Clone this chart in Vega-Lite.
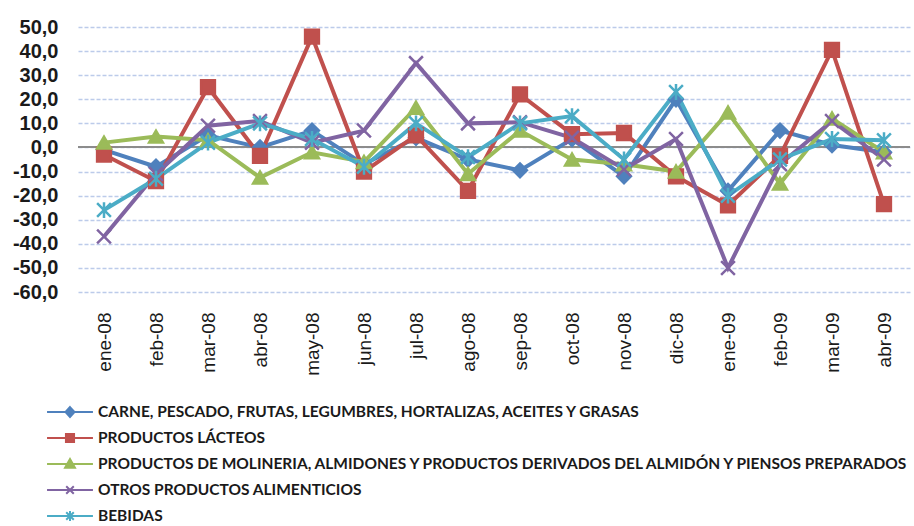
{
  "$schema": "https://vega.github.io/schema/vega-lite/v6.json",
  "autosize": {"type": "none"},
  "width": 832,
  "height": 265,
  "padding": {"left": 78, "top": 27, "right": 4, "bottom": 234},
  "background": "white",
  "config": {
    "view": {"stroke": null},
    "locale": {"number": {"decimal": ",", "thousands": ".", "grouping": [3], "currency": ["", " €"], "minus": "-"}}
  },
  "data": {"values": [
    {"mes": "ene-08", "serie": "CARNE, PESCADO, FRUTAS, LEGUMBRES, HORTALIZAS, ACEITES Y GRASAS", "valor": -1},
    {"mes": "feb-08", "serie": "CARNE, PESCADO, FRUTAS, LEGUMBRES, HORTALIZAS, ACEITES Y GRASAS", "valor": -8},
    {"mes": "mar-08", "serie": "CARNE, PESCADO, FRUTAS, LEGUMBRES, HORTALIZAS, ACEITES Y GRASAS", "valor": 5},
    {"mes": "abr-08", "serie": "CARNE, PESCADO, FRUTAS, LEGUMBRES, HORTALIZAS, ACEITES Y GRASAS", "valor": 0},
    {"mes": "may-08", "serie": "CARNE, PESCADO, FRUTAS, LEGUMBRES, HORTALIZAS, ACEITES Y GRASAS", "valor": 7},
    {"mes": "jun-08", "serie": "CARNE, PESCADO, FRUTAS, LEGUMBRES, HORTALIZAS, ACEITES Y GRASAS", "valor": -7},
    {"mes": "jul-08", "serie": "CARNE, PESCADO, FRUTAS, LEGUMBRES, HORTALIZAS, ACEITES Y GRASAS", "valor": 4},
    {"mes": "ago-08", "serie": "CARNE, PESCADO, FRUTAS, LEGUMBRES, HORTALIZAS, ACEITES Y GRASAS", "valor": -5},
    {"mes": "sep-08", "serie": "CARNE, PESCADO, FRUTAS, LEGUMBRES, HORTALIZAS, ACEITES Y GRASAS", "valor": -9.5},
    {"mes": "oct-08", "serie": "CARNE, PESCADO, FRUTAS, LEGUMBRES, HORTALIZAS, ACEITES Y GRASAS", "valor": 3.5},
    {"mes": "nov-08", "serie": "CARNE, PESCADO, FRUTAS, LEGUMBRES, HORTALIZAS, ACEITES Y GRASAS", "valor": -12},
    {"mes": "dic-08", "serie": "CARNE, PESCADO, FRUTAS, LEGUMBRES, HORTALIZAS, ACEITES Y GRASAS", "valor": 20},
    {"mes": "ene-09", "serie": "CARNE, PESCADO, FRUTAS, LEGUMBRES, HORTALIZAS, ACEITES Y GRASAS", "valor": -18},
    {"mes": "feb-09", "serie": "CARNE, PESCADO, FRUTAS, LEGUMBRES, HORTALIZAS, ACEITES Y GRASAS", "valor": 7},
    {"mes": "mar-09", "serie": "CARNE, PESCADO, FRUTAS, LEGUMBRES, HORTALIZAS, ACEITES Y GRASAS", "valor": 1},
    {"mes": "abr-09", "serie": "CARNE, PESCADO, FRUTAS, LEGUMBRES, HORTALIZAS, ACEITES Y GRASAS", "valor": -2},
    {"mes": "ene-08", "serie": "PRODUCTOS LÁCTEOS", "valor": -3},
    {"mes": "feb-08", "serie": "PRODUCTOS LÁCTEOS", "valor": -14},
    {"mes": "mar-08", "serie": "PRODUCTOS LÁCTEOS", "valor": 25},
    {"mes": "abr-08", "serie": "PRODUCTOS LÁCTEOS", "valor": -3.5},
    {"mes": "may-08", "serie": "PRODUCTOS LÁCTEOS", "valor": 46},
    {"mes": "jun-08", "serie": "PRODUCTOS LÁCTEOS", "valor": -10},
    {"mes": "jul-08", "serie": "PRODUCTOS LÁCTEOS", "valor": 5},
    {"mes": "ago-08", "serie": "PRODUCTOS LÁCTEOS", "valor": -18},
    {"mes": "sep-08", "serie": "PRODUCTOS LÁCTEOS", "valor": 22},
    {"mes": "oct-08", "serie": "PRODUCTOS LÁCTEOS", "valor": 5.5},
    {"mes": "nov-08", "serie": "PRODUCTOS LÁCTEOS", "valor": 6},
    {"mes": "dic-08", "serie": "PRODUCTOS LÁCTEOS", "valor": -12},
    {"mes": "ene-09", "serie": "PRODUCTOS LÁCTEOS", "valor": -24},
    {"mes": "feb-09", "serie": "PRODUCTOS LÁCTEOS", "valor": -3.5},
    {"mes": "mar-09", "serie": "PRODUCTOS LÁCTEOS", "valor": 40.5},
    {"mes": "abr-09", "serie": "PRODUCTOS LÁCTEOS", "valor": -23.5},
    {"mes": "ene-08", "serie": "PRODUCTOS DE MOLINERIA, ALMIDONES Y PRODUCTOS DERIVADOS DEL ALMIDÓN Y PIENSOS PREPARADOS", "valor": 2},
    {"mes": "feb-08", "serie": "PRODUCTOS DE MOLINERIA, ALMIDONES Y PRODUCTOS DERIVADOS DEL ALMIDÓN Y PIENSOS PREPARADOS", "valor": 4.5},
    {"mes": "mar-08", "serie": "PRODUCTOS DE MOLINERIA, ALMIDONES Y PRODUCTOS DERIVADOS DEL ALMIDÓN Y PIENSOS PREPARADOS", "valor": 3},
    {"mes": "abr-08", "serie": "PRODUCTOS DE MOLINERIA, ALMIDONES Y PRODUCTOS DERIVADOS DEL ALMIDÓN Y PIENSOS PREPARADOS", "valor": -12.5},
    {"mes": "may-08", "serie": "PRODUCTOS DE MOLINERIA, ALMIDONES Y PRODUCTOS DERIVADOS DEL ALMIDÓN Y PIENSOS PREPARADOS", "valor": -2},
    {"mes": "jun-08", "serie": "PRODUCTOS DE MOLINERIA, ALMIDONES Y PRODUCTOS DERIVADOS DEL ALMIDÓN Y PIENSOS PREPARADOS", "valor": -6},
    {"mes": "jul-08", "serie": "PRODUCTOS DE MOLINERIA, ALMIDONES Y PRODUCTOS DERIVADOS DEL ALMIDÓN Y PIENSOS PREPARADOS", "valor": 16.5},
    {"mes": "ago-08", "serie": "PRODUCTOS DE MOLINERIA, ALMIDONES Y PRODUCTOS DERIVADOS DEL ALMIDÓN Y PIENSOS PREPARADOS", "valor": -11},
    {"mes": "sep-08", "serie": "PRODUCTOS DE MOLINERIA, ALMIDONES Y PRODUCTOS DERIVADOS DEL ALMIDÓN Y PIENSOS PREPARADOS", "valor": 7},
    {"mes": "oct-08", "serie": "PRODUCTOS DE MOLINERIA, ALMIDONES Y PRODUCTOS DERIVADOS DEL ALMIDÓN Y PIENSOS PREPARADOS", "valor": -5},
    {"mes": "nov-08", "serie": "PRODUCTOS DE MOLINERIA, ALMIDONES Y PRODUCTOS DERIVADOS DEL ALMIDÓN Y PIENSOS PREPARADOS", "valor": -7},
    {"mes": "dic-08", "serie": "PRODUCTOS DE MOLINERIA, ALMIDONES Y PRODUCTOS DERIVADOS DEL ALMIDÓN Y PIENSOS PREPARADOS", "valor": -10},
    {"mes": "ene-09", "serie": "PRODUCTOS DE MOLINERIA, ALMIDONES Y PRODUCTOS DERIVADOS DEL ALMIDÓN Y PIENSOS PREPARADOS", "valor": 14.5},
    {"mes": "feb-09", "serie": "PRODUCTOS DE MOLINERIA, ALMIDONES Y PRODUCTOS DERIVADOS DEL ALMIDÓN Y PIENSOS PREPARADOS", "valor": -15},
    {"mes": "mar-09", "serie": "PRODUCTOS DE MOLINERIA, ALMIDONES Y PRODUCTOS DERIVADOS DEL ALMIDÓN Y PIENSOS PREPARADOS", "valor": 12},
    {"mes": "abr-09", "serie": "PRODUCTOS DE MOLINERIA, ALMIDONES Y PRODUCTOS DERIVADOS DEL ALMIDÓN Y PIENSOS PREPARADOS", "valor": -2},
    {"mes": "ene-08", "serie": "OTROS PRODUCTOS ALIMENTICIOS", "valor": -37},
    {"mes": "feb-08", "serie": "OTROS PRODUCTOS ALIMENTICIOS", "valor": -11},
    {"mes": "mar-08", "serie": "OTROS PRODUCTOS ALIMENTICIOS", "valor": 9},
    {"mes": "abr-08", "serie": "OTROS PRODUCTOS ALIMENTICIOS", "valor": 11},
    {"mes": "may-08", "serie": "OTROS PRODUCTOS ALIMENTICIOS", "valor": 2},
    {"mes": "jun-08", "serie": "OTROS PRODUCTOS ALIMENTICIOS", "valor": 7},
    {"mes": "jul-08", "serie": "OTROS PRODUCTOS ALIMENTICIOS", "valor": 35},
    {"mes": "ago-08", "serie": "OTROS PRODUCTOS ALIMENTICIOS", "valor": 10},
    {"mes": "sep-08", "serie": "OTROS PRODUCTOS ALIMENTICIOS", "valor": 10.5},
    {"mes": "oct-08", "serie": "OTROS PRODUCTOS ALIMENTICIOS", "valor": 4},
    {"mes": "nov-08", "serie": "OTROS PRODUCTOS ALIMENTICIOS", "valor": -9},
    {"mes": "dic-08", "serie": "OTROS PRODUCTOS ALIMENTICIOS", "valor": 3.5},
    {"mes": "ene-09", "serie": "OTROS PRODUCTOS ALIMENTICIOS", "valor": -50},
    {"mes": "feb-09", "serie": "OTROS PRODUCTOS ALIMENTICIOS", "valor": -7},
    {"mes": "mar-09", "serie": "OTROS PRODUCTOS ALIMENTICIOS", "valor": 11},
    {"mes": "abr-09", "serie": "OTROS PRODUCTOS ALIMENTICIOS", "valor": -5},
    {"mes": "ene-08", "serie": "BEBIDAS", "valor": -26},
    {"mes": "feb-08", "serie": "BEBIDAS", "valor": -13},
    {"mes": "mar-08", "serie": "BEBIDAS", "valor": 2},
    {"mes": "abr-08", "serie": "BEBIDAS", "valor": 10},
    {"mes": "may-08", "serie": "BEBIDAS", "valor": 3.5},
    {"mes": "jun-08", "serie": "BEBIDAS", "valor": -8},
    {"mes": "jul-08", "serie": "BEBIDAS", "valor": 10},
    {"mes": "ago-08", "serie": "BEBIDAS", "valor": -4},
    {"mes": "sep-08", "serie": "BEBIDAS", "valor": 10},
    {"mes": "oct-08", "serie": "BEBIDAS", "valor": 13},
    {"mes": "nov-08", "serie": "BEBIDAS", "valor": -5},
    {"mes": "dic-08", "serie": "BEBIDAS", "valor": 23},
    {"mes": "ene-09", "serie": "BEBIDAS", "valor": -20},
    {"mes": "feb-09", "serie": "BEBIDAS", "valor": -5},
    {"mes": "mar-09", "serie": "BEBIDAS", "valor": 3.5},
    {"mes": "abr-09", "serie": "BEBIDAS", "valor": 3}
  ]},
  "encoding": {
    "x": {
      "field": "mes", "type": "nominal", "sort": null,
      "scale": {"type": "point", "padding": 0.5},
      "axis": {"title": null, "labelAngle": -90, "labelFont": "Liberation Sans", "labelFontSize": 19, "labelColor": "#1a1a1a", "labelPadding": 20, "ticks": false, "domain": false, "grid": false}
    },
    "y": {
      "field": "valor", "type": "quantitative",
      "scale": {"domain": [-60, 50], "nice": false, "zero": false},
      "axis": {"title": null, "values": [-60, -50, -40, -30, -20, -10, 0, 10, 20, 30, 40, 50], "format": ".1f", "labelFont": "Liberation Sans", "labelFontSize": 20, "labelFontWeight": "bold", "labelColor": "#1a1a1a", "labelPadding": 20, "ticks": false, "domain": false, "grid": true, "gridColor": "#BCCBEA", "gridDash": [4, 2], "gridWidth": 1.5}
    }
  },
  "layer": [
    {
      "mark": {"type": "rule", "color": "#8c8c8c", "strokeWidth": 1.3},
      "encoding": {"y": {"datum": 0}, "x": null}
    },
    {
      "mark": {"type": "line", "strokeWidth": 4},
      "encoding": {
        "color": {"field": "serie", "type": "nominal", "sort": null,
          "scale": {"domain": ["CARNE, PESCADO, FRUTAS, LEGUMBRES, HORTALIZAS, ACEITES Y GRASAS", "PRODUCTOS LÁCTEOS", "PRODUCTOS DE MOLINERIA, ALMIDONES Y PRODUCTOS DERIVADOS DEL ALMIDÓN Y PIENSOS PREPARADOS", "OTROS PRODUCTOS ALIMENTICIOS", "BEBIDAS"], "range": ["#4F81BD", "#C0504D", "#9BBB59", "#8064A2", "#4BACC6"]},
          "legend": null}
      }
    },
    {
      "mark": {"type": "point", "filled": true, "opacity": 1, "size": 190, "strokeWidth": 2.5},
      "encoding": {
        "color": {"field": "serie", "type": "nominal",
          "scale": {"domain": ["CARNE, PESCADO, FRUTAS, LEGUMBRES, HORTALIZAS, ACEITES Y GRASAS", "PRODUCTOS LÁCTEOS", "PRODUCTOS DE MOLINERIA, ALMIDONES Y PRODUCTOS DERIVADOS DEL ALMIDÓN Y PIENSOS PREPARADOS", "OTROS PRODUCTOS ALIMENTICIOS", "BEBIDAS"], "range": ["#4F81BD", "#C0504D", "#9BBB59", "#8064A2", "#4BACC6"]},
          "legend": null},
        "stroke": {"field": "serie", "type": "nominal",
          "scale": {"domain": ["CARNE, PESCADO, FRUTAS, LEGUMBRES, HORTALIZAS, ACEITES Y GRASAS", "PRODUCTOS LÁCTEOS", "PRODUCTOS DE MOLINERIA, ALMIDONES Y PRODUCTOS DERIVADOS DEL ALMIDÓN Y PIENSOS PREPARADOS", "OTROS PRODUCTOS ALIMENTICIOS", "BEBIDAS"], "range": ["#4F81BD", "#C0504D", "#9BBB59", "#8064A2", "#4BACC6"]},
          "legend": null},
        "shape": {"field": "serie", "type": "nominal",
          "scale": {"domain": ["CARNE, PESCADO, FRUTAS, LEGUMBRES, HORTALIZAS, ACEITES Y GRASAS", "PRODUCTOS LÁCTEOS", "PRODUCTOS DE MOLINERIA, ALMIDONES Y PRODUCTOS DERIVADOS DEL ALMIDÓN Y PIENSOS PREPARADOS", "OTROS PRODUCTOS ALIMENTICIOS", "BEBIDAS"], "range": ["diamond", "square", "triangle-up", "M-1,-1L1,1M-1,1L1,-1", "M-1,-1L1,1M-1,1L1,-1M0,-1.15L0,1.15"]},
          "legend": null}
      }
    },
    {
      "transform": [{"filter": "datum.valor > 1000"}],
      "mark": {"type": "point", "filled": true},
      "encoding": {
        "color": {"field": "serie", "type": "nominal",
          "scale": {"domain": ["CARNE, PESCADO, FRUTAS, LEGUMBRES, HORTALIZAS, ACEITES Y GRASAS", "PRODUCTOS LÁCTEOS", "PRODUCTOS DE MOLINERIA, ALMIDONES Y PRODUCTOS DERIVADOS DEL ALMIDÓN Y PIENSOS PREPARADOS", "OTROS PRODUCTOS ALIMENTICIOS", "BEBIDAS"], "range": ["#4F81BD", "#C0504D", "#9BBB59", "#8064A2", "#4BACC6"]},
          "legend": {"title": null, "orient": "none", "legendX": -18, "legendY": 375, "labelFont": "Lato", "labelFontSize": 15.5, "labelFontWeight": "bold", "labelColor": "#1a1a1a", "labelLimit": 1000, "labelOffset": 18, "symbolSize": 324, "symbolStrokeWidth": 2, "symbolOpacity": 1, "rowPadding": 7}},
        "stroke": {"field": "serie", "type": "nominal",
          "scale": {"domain": ["CARNE, PESCADO, FRUTAS, LEGUMBRES, HORTALIZAS, ACEITES Y GRASAS", "PRODUCTOS LÁCTEOS", "PRODUCTOS DE MOLINERIA, ALMIDONES Y PRODUCTOS DERIVADOS DEL ALMIDÓN Y PIENSOS PREPARADOS", "OTROS PRODUCTOS ALIMENTICIOS", "BEBIDAS"], "range": ["#4F81BD", "#C0504D", "#9BBB59", "#8064A2", "#4BACC6"]},
          "legend": {"title": null, "orient": "none", "legendX": -18, "legendY": 375, "labelFont": "Lato", "labelFontSize": 15.5, "labelFontWeight": "bold", "labelColor": "#1a1a1a", "labelLimit": 1000, "labelOffset": 18, "symbolSize": 324, "symbolStrokeWidth": 2, "symbolOpacity": 1, "rowPadding": 7}},
        "shape": {"field": "serie", "type": "nominal",
          "scale": {"domain": ["CARNE, PESCADO, FRUTAS, LEGUMBRES, HORTALIZAS, ACEITES Y GRASAS", "PRODUCTOS LÁCTEOS", "PRODUCTOS DE MOLINERIA, ALMIDONES Y PRODUCTOS DERIVADOS DEL ALMIDÓN Y PIENSOS PREPARADOS", "OTROS PRODUCTOS ALIMENTICIOS", "BEBIDAS"], "range": ["M-2.55,0L2.55,0M0,-0.55L0.5,0L0,0.55L-0.5,0Z", "M-2.55,0L2.55,0M-0.45,-0.45L0.45,-0.45L0.45,0.45L-0.45,0.45Z", "M-2.55,0L2.55,0M0,-0.55L0.55,0.42L-0.55,0.42Z", "M-2.55,0L2.55,0M-0.42,-0.42L0.42,0.42M-0.42,0.42L0.42,-0.42", "M-2.55,0L2.55,0M-0.42,-0.42L0.42,0.42M-0.42,0.42L0.42,-0.42M0,-0.55L0,0.55"]},
          "legend": {"title": null, "orient": "none", "legendX": -18, "legendY": 375, "labelFont": "Lato", "labelFontSize": 15.5, "labelFontWeight": "bold", "labelColor": "#1a1a1a", "labelLimit": 1000, "labelOffset": 18, "symbolSize": 324, "symbolStrokeWidth": 2, "symbolOpacity": 1, "rowPadding": 7}}
      }
    }
  ],
  "resolve": {"scale": {"color": "independent", "stroke": "independent", "shape": "independent"}}
}
